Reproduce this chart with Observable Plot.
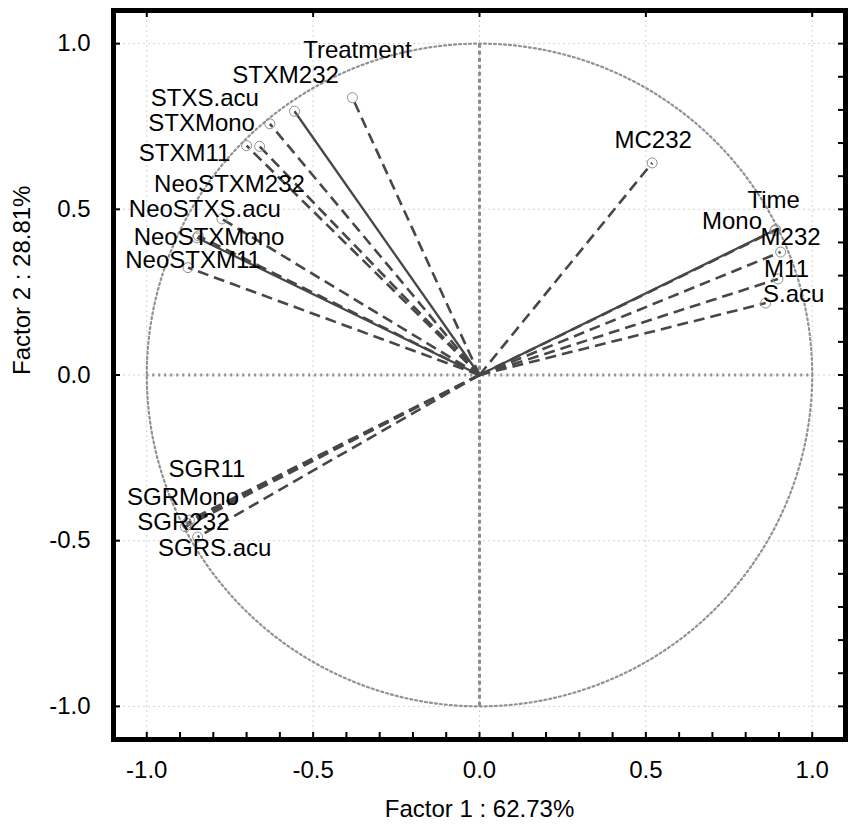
<!DOCTYPE html>
<html>
<head>
<meta charset="utf-8">
<script src="https://cdn.jsdelivr.net/npm/d3@7"></script>
<script src="https://cdn.jsdelivr.net/npm/@observablehq/plot@0.6"></script>
<style>
  html, body { margin: 0; padding: 0; background: #fff; }
  #chart svg { display: block; }
</style>
</head>
<body>
<div id="chart"></div>
<script>
// ---- data ----
const variables = ["Treatment","STXM232","STXS.acu","STXMono","STXM11","NeoSTXM232","NeoSTXS.acu","NeoSTXMono","NeoSTXM11","MC232","Time","Mono","M232","M11","S.acu","SGR11","SGRMono","SGR232","SGRS.acu"];
const factor1 = [-0.382,-0.556,-0.630,-0.661,-0.700,-0.774,-0.845,-0.849,-0.876,0.519,0.890,0.888,0.905,0.897,0.860,-0.872,-0.880,-0.884,-0.847];
const factor2 = [0.837,0.796,0.758,0.690,0.692,0.471,0.420,0.414,0.324,0.640,0.439,0.436,0.371,0.290,0.217,-0.438,-0.448,-0.458,-0.489];
const solid = ["STXM232","NeoSTXMono","Time"];
const xTicks = [-1.0,-0.5,0.0,0.5,1.0];
const yTicks = [-1.0,-0.5,0.0,0.5,1.0];
const xTitle = "Factor 1 : 62.73%";
const yTitle = "Factor 2 : 28.81%";

// ---- label layout (pixel offsets of each label from its point) ----
const labelDx = [5,-9,-65,-58,-62,7.5,6.5,12,5,1,-2,-43,10,8.6,28,17.6,-3.7,-2,17];
const labelDy = [-47,-36,-26,-23,8,-35,-27,-1,-7,-23,-29,-9,-14.5,-9.4,-8.6,-50.7,-26,-4,11];

const rows = variables.map((name, i) => ({
  name, x: factor1[i], y: factor2[i],
  solid: solid.includes(name), dx: labelDx[i], dy: labelDy[i]
}));

const W = 849, H = 828;
const mL = 113, mR = 4, mT = 10, mB = 89;
const dom = [-1.1, 1.1];
const kx = (W - mL - mR) / (dom[1] - dom[0]);
const ky = (H - mT - mB) / (dom[1] - dom[0]);
const fmt = d => d.toFixed(1);

const minor = d3.range(-10, 11).map(i => i / 10);
const major = xTicks;
const circle = d3.range(0, 361, 1).map(a => ({x: Math.cos(a * Math.PI / 180), y: Math.sin(a * Math.PI / 180)}));

const ink = "#474747";
const chart = Plot.plot({
  width: W, height: H,
  marginLeft: mL, marginRight: mR, marginTop: mT, marginBottom: mB,
  style: {fontFamily: "'Liberation Sans', Arial, sans-serif", fontSize: "24px", color: "#000", background: "#fff"},
  x: {domain: dom, ticks: xTicks, tickFormat: fmt, tickSize: 0, tickPadding: 21, label: null},
  y: {domain: dom, ticks: yTicks, tickFormat: fmt, tickSize: 0, tickPadding: 23, label: null},
  marks: [
    // light grid
    Plot.ruleX(xTicks, {stroke: "#d2d2d2", strokeWidth: 1, strokeDasharray: "2,3"}),
    Plot.ruleY(yTicks, {stroke: "#d2d2d2", strokeWidth: 1, strokeDasharray: "2,3"}),
    // zero axes
    Plot.ruleX([0], {y1: -1, y2: 1, stroke: "#8c8c8c", strokeWidth: 3, strokeDasharray: "4,3"}),
    Plot.ruleY([0], {x1: -1, x2: 1, stroke: "#8c8c8c", strokeWidth: 3, strokeDasharray: "2,4"}),
    // unit circle
    Plot.line(circle, {x: "x", y: "y", stroke: "#929292", strokeWidth: 2.2, strokeDasharray: "2,3"}),
    // vectors
    Plot.link(rows.filter(d => !d.solid), {x1: 0, y1: 0, x2: "x", y2: "y", stroke: ink, strokeWidth: 2.6, strokeDasharray: "11,6"}),
    Plot.link(rows.filter(d => d.solid), {x1: 0, y1: 0, x2: "x", y2: "y", stroke: ink, strokeWidth: 2.3}),
    Plot.dot(rows, {x: "x", y: "y", r: 5, stroke: "#8f8f8f", strokeWidth: 1, fill: "none"}),
    // labels
    Plot.text(rows, {x: d => d.x + d.dx / kx, y: d => d.y - d.dy / ky, text: "name", fill: "#000", fontSize: 24, textAnchor: "middle"}),
    // frame ticks
    Plot.ruleX(minor, {x: d => d, y1: dom[0], y2: dom[0] + 7 / ky, stroke: "#000", strokeWidth: 2}),
    Plot.ruleY(minor, {y: d => d, x1: dom[1], x2: dom[1] - 7 / kx, stroke: "#000", strokeWidth: 2}),
    Plot.ruleX(major, {x: d => d, y1: dom[1], y2: dom[1] - 7 / ky, stroke: "#000", strokeWidth: 2}),
    Plot.ruleY(major, {y: d => d, x1: dom[0], x2: dom[0] + 7 / kx, stroke: "#000", strokeWidth: 2}),
    Plot.frame({stroke: "#000", strokeWidth: 5}),
    // axis titles
    Plot.text([xTitle], {text: d => d, frameAnchor: "bottom", dy: 77, fontSize: 24, fill: "#000"}),
    Plot.text([yTitle], {text: d => d, frameAnchor: "left", dx: -91, rotate: -90, fontSize: 24, fill: "#000"})
  ]
});
document.getElementById("chart").appendChild(chart);
</script>
</body>
</html>
